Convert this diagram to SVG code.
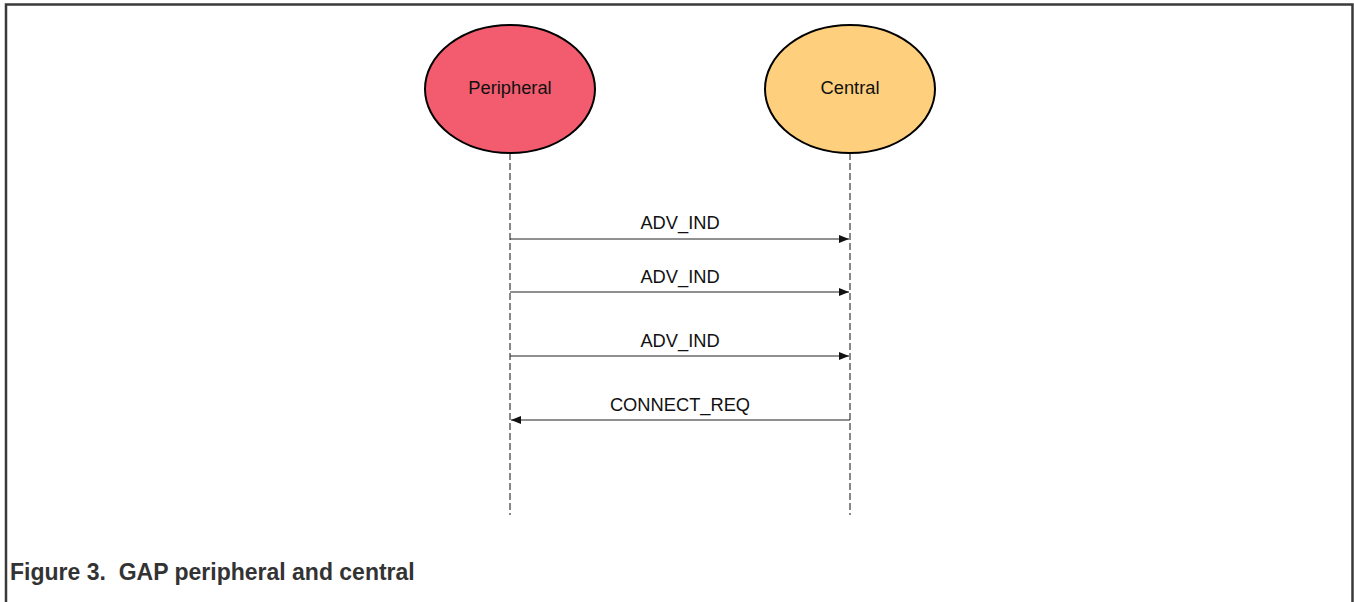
<svg xmlns="http://www.w3.org/2000/svg" width="1354" height="602" viewBox="0 0 1354 602">
  <style>
    .frame { fill: none; stroke: #3a3a3a; stroke-width: 2.5; }
    .node { stroke: #000; stroke-width: 2; }
    .lbl { font-family: "Liberation Sans", Arial, sans-serif; font-size: 18.3px; fill: #111; text-anchor: middle; }
    .life { stroke: #111; stroke-width: 1; stroke-dasharray: 7 3; fill: none; }
    .msg { stroke: #222; stroke-width: 1.2; fill: none; }
    .caption { font-family: "Liberation Sans", Arial, sans-serif; font-size: 23px; font-weight: bold; fill: #333; white-space: pre; }
  </style>
  <defs>
    <marker id="arrow" viewBox="0 0 10 10" refX="10" refY="5" markerWidth="10" markerHeight="10" markerUnits="userSpaceOnUse" orient="auto">
      <path d="M0,1 L10,5 L0,9 Z" fill="#111"/>
    </marker>
  </defs>
  <rect width="1354" height="602" fill="#fff"/>
  <path class="frame" d="M6,602 V4.5 H1352.5 V602"/>

  <g id="peripheral">
    <ellipse class="node" cx="510" cy="89" rx="85" ry="64" fill="#f25c6e"/>
    <text class="lbl" x="510" y="94">Peripheral</text>
  </g>
  <g id="central">
    <ellipse class="node" cx="850" cy="89" rx="85" ry="64" fill="#fecf7c"/>
    <text class="lbl" x="850" y="94">Central</text>
  </g>

  <g id="connectors">
    <line class="life" x1="510" y1="153" x2="510" y2="515"/>
    <line class="life" x1="850" y1="153" x2="850" y2="515"/>
    <line class="msg" x1="510" y1="239" x2="849" y2="239" marker-end="url(#arrow)"/>
    <line class="msg" x1="510" y1="292" x2="849" y2="292" marker-end="url(#arrow)"/>
    <line class="msg" x1="510" y1="356" x2="849" y2="356" marker-end="url(#arrow)"/>
    <line class="msg" x1="850" y1="420" x2="511" y2="420" marker-end="url(#arrow)"/>
    <text class="lbl" x="680" y="229">ADV_IND</text>
    <text class="lbl" x="680" y="283">ADV_IND</text>
    <text class="lbl" x="680" y="347">ADV_IND</text>
    <text class="lbl" x="680" y="411">CONNECT_REQ</text>
  </g>

  <text class="caption" x="10" y="580" xml:space="preserve">Figure 3.  GAP peripheral and central</text>
</svg>
